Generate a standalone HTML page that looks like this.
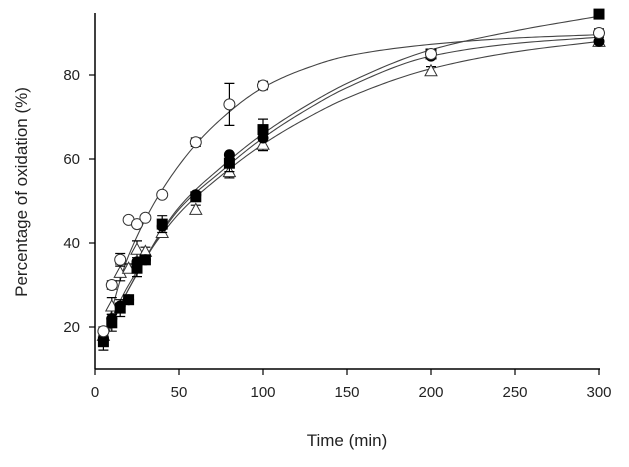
<!DOCTYPE html>
<html><head><meta charset="utf-8"><style>
html,body{margin:0;padding:0;background:#fff;}
svg{display:block;font-family:"Liberation Sans",Arial,sans-serif;}
</style></head><body>
<svg id="chart" width="629" height="467" viewBox="0 0 629 467">
<g id="axes"></g>
<g id="fits"></g>
<g id="marks"></g>
<text x="347" y="446" text-anchor="middle" font-size="17" fill="#222">Time (min)</text>
<text transform="translate(27,192) rotate(-90)" text-anchor="middle" font-size="17" fill="#222">Percentage of oxidation (%)</text>
</svg>
<script>
const times = [5,10,15,20,25,30,40,60,80,100,200,300];
const openCircle = [19,30,36,45.5,44.5,46,51.5,64,73,77.5,85,90];
const filledSquare = [16.5,21,24.5,26.5,34,36,44.5,51,59,67,85,94.5];
const filledCircle = [17,22,25,26.5,35.5,36,44,51.5,61,65,84.5,88];
const openTriangle = [18,25,33,34,38.5,38,42.5,48,57,63.5,81,88];
const openCircleErr = [1,1,1.5,0.5,0.5,0.5,0.5,1,5,1,1,1];
const filledSquareErr = [2,2,2,1,2,1,2,1,2,2.5,1,1];
const triangleErr = [1,2,2,1,2,1,1,1,1.5,1.5,1,1];
const fitTimes = [5,20,50,75,100,125,150,200,250,300];
const fitOpenCircle = [17,37,58.5,69.5,77,81.5,84.5,87.3,88.8,89.6];
const fitSquare = [16,29,48.5,58,66,72.5,78,86,90.5,94];
const fitFilledCircle = [17,29,48,57,65,71.5,77,84.5,87.5,89];
const fitTriangle = [18,30,47,56,63.5,69.5,74.5,81.5,85.5,88];
const xTicks = [0,50,100,150,200,250,300];
const yTicks = [20,40,60,80];

const NS="http://www.w3.org/2000/svg";
const X=v=>95+v*(504/300);
const Y=v=>327-(v-20)*4.2;
function mk(tag,attrs,parent){const e=document.createElementNS(NS,tag);for(const k in attrs)e.setAttribute(k,attrs[k]);parent.appendChild(e);return e;}
const axes=document.getElementById('axes');
let a=mk('line',{x1:95,y1:13,x2:95,y2:369,stroke:'#000','stroke-width':1.5},axes);


a=mk('line',{x1:95,y1:369,x2:600,y2:369,stroke:'#000','stroke-width':1.5},axes);


xTicks.forEach(t=>{
 const l=mk('line',{x1:X(t),y1:369,x2:X(t),y2:375,stroke:'#000','stroke-width':1.2},axes);
 
 
 const tx=mk('text',{x:X(t),y:397,'text-anchor':'middle','font-size':15,fill:'#222'},axes);
 tx.textContent=t;
 
 
});
yTicks.forEach(t=>{
 const l=mk('line',{x1:89,y1:Y(t),x2:95,y2:Y(t),stroke:'#000','stroke-width':1.2},axes);
 
 
 const tx=mk('text',{x:80,y:Y(t)+5,'text-anchor':'end','font-size':15,fill:'#222'},axes);
 tx.textContent=t;
 
 
});
const fits=document.getElementById('fits');
// monotone cubic (Fritsch-Carlson) in data space, densely sampled
function curve(ts,vs){
 const n=ts.length,h=[],d=[],m=new Array(n);
 for(let i=0;i<n-1;i++){h.push(ts[i+1]-ts[i]);d.push((vs[i+1]-vs[i])/h[i]);}
 m[0]=d[0];m[n-1]=d[n-2];
 for(let i=1;i<n-1;i++){
  if(d[i-1]*d[i]<=0)m[i]=0;
  else{const w1=2*h[i]+h[i-1],w2=h[i]+2*h[i-1];m[i]=(w1+w2)/(w1/d[i-1]+w2/d[i]);}
 }
 let path='M'+X(ts[0]).toFixed(2)+','+Y(vs[0]).toFixed(2);
 for(let i=0;i<n-1;i++){
  for(let k=1;k<=20;k++){
   const s=k/20,s2=s*s,s3=s2*s;
   const v=(2*s3-3*s2+1)*vs[i]+(s3-2*s2+s)*h[i]*m[i]+(-2*s3+3*s2)*vs[i+1]+(s3-s2)*h[i]*m[i+1];
   path+=' L'+X(ts[i]+s*h[i]).toFixed(2)+','+Y(v).toFixed(2);
  }
 }
 return path;
}
[[fitOpenCircle,'fit-open-circle'],[fitSquare,'fit-filled-square'],[fitFilledCircle,'fit-filled-circle'],[fitTriangle,'fit-open-triangle']].forEach(([vs,n])=>{
 const p=mk('path',{d:curve(fitTimes,vs),fill:'none',stroke:'#444','stroke-width':1.1},fits);
 
 
});
const marks=document.getElementById('marks');
function err(t,v,e){
 if(e<0.8)return;
 const x=X(t),y1=Y(v+e),y2=Y(v-e);
 const g=mk('path',{d:`M${x},${y1}V${y2}M${x-5},${y1}H${x+5}M${x-5},${y2}H${x+5}`,stroke:'#000','stroke-width':1.2,fill:'none'},marks);
 
 
}
times.forEach((t,i)=>err(t,openTriangle[i],triangleErr[i]));
times.forEach((t,i)=>{
 const x=X(t),y=Y(openTriangle[i]);
 const m=mk('polygon',{points:`${x},${y-6} ${x-6},${y+5} ${x+6},${y+5}`,fill:'#fff',stroke:'#333','stroke-width':1},marks);
 
 
});
times.forEach((t,i)=>{
 const m=mk('circle',{cx:X(t),cy:Y(filledCircle[i]),r:5.5,fill:'#000'},marks);
 
 
});
times.forEach((t,i)=>err(t,filledSquare[i],filledSquareErr[i]));
times.forEach((t,i)=>{
 const m=mk('rect',{x:X(t)-5.5,y:Y(filledSquare[i])-5.5,width:11,height:11,fill:'#000'},marks);
 
 
});
times.forEach((t,i)=>err(t,openCircle[i],openCircleErr[i]));
times.forEach((t,i)=>{
 const m=mk('circle',{cx:X(t),cy:Y(openCircle[i]),r:5.5,fill:'#fff',stroke:'#333','stroke-width':1},marks);
 
 
});
</script>
</body></html>
